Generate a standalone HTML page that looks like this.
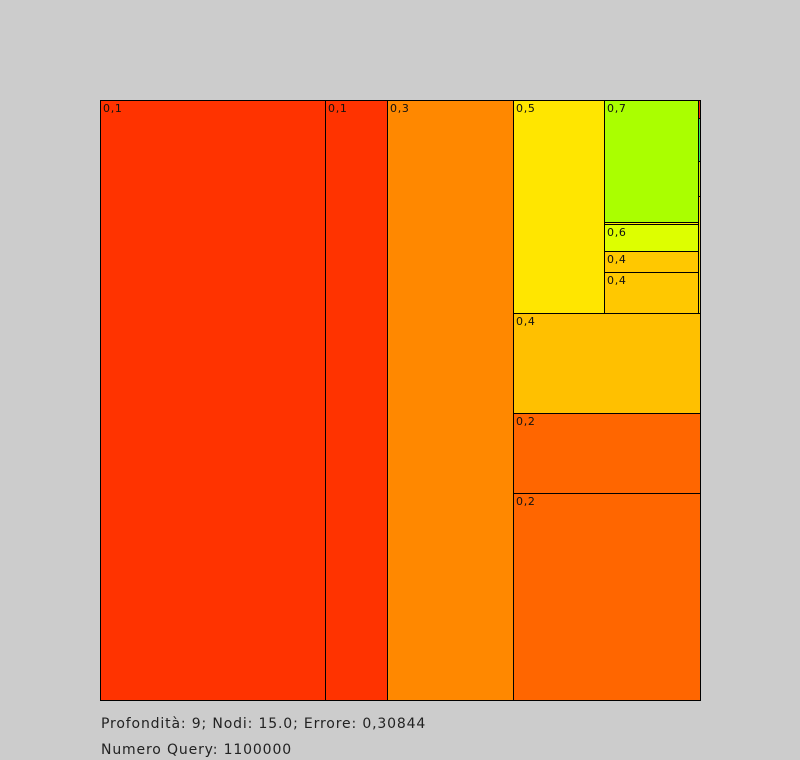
<!DOCTYPE html>
<html><head><meta charset="utf-8">
<style>
body{margin:0;background:#cccccc;width:800px;height:760px;overflow:hidden;font-family:"DejaVu Sans","Liberation Sans",sans-serif;}
#chart{position:absolute;left:0;top:0;}
.info{position:absolute;left:101px;font-size:14px;color:#222;letter-spacing:0.85px;}
</style></head><body>
<svg id="chart" width="800" height="760"></svg>
<div class="info" style="top:716px">Profondità: 9; Nodi: 15.0; Errore: 0,30844</div>
<div class="info" style="top:742px">Numero Query: 1100000</div>
<script>
const nodeLabels = ["0,1","0,1","0,3","0,5","0,7","","0,6","0,4","0,4","0,4","0,2","0,2"];
const nodeWeights = [225,62,126, 91, 122,2,27,21,41, 100,80,207];
const nodeColors = ["#ff3300","#ff3300","#ff8800","#ffe600","#aaff00","#ffe600","#ddff00","#ffc800","#ffc800","#ffc000","#ff6600","#ff6600"];
const stripWeights = [18,43,35,117];
const stripColors = ["#ff2a00","#33ee55","#ccee00","#ffdd00"];

function leaf(i){return {label:nodeLabels[i],w:nodeWeights[i],color:nodeColors[i]};}
const strip = {w:2,children:stripWeights.map((w,i)=>({label:"",w:w,color:stripColors[i]}))};
const sub = {w:94,children:[4,5,6,7,8].map(leaf)};
const topRight = {w:213,children:[leaf(3),sub,strip]};
const rightCol = {w:187,children:[topRight,leaf(9),leaf(10),leaf(11)]};
const root = {children:[leaf(0),leaf(1),leaf(2),rightCol]};

const svg=document.getElementById('chart');
const NS="http://www.w3.org/2000/svg";
function sum(n){return n.children?n.children.reduce((a,c)=>a+c.w,0):n.w;}
function layout(n,x,y,w,h,horiz){
  if(!n.children){
    const r=document.createElementNS(NS,'rect');
    r.setAttribute('x',x+0.5);r.setAttribute('y',y+0.5);
    r.setAttribute('width',Math.max(w,0));r.setAttribute('height',Math.max(h,0));
    r.setAttribute('fill',n.color);r.setAttribute('stroke','#000');r.setAttribute('stroke-width','1');
    
    
    svg.appendChild(r);
    if(n.label && w>15 && h>12){
      const t=document.createElementNS(NS,'text');
      t.setAttribute('x',x+3);t.setAttribute('y',y+12);
      t.setAttribute('font-size','11');t.setAttribute('fill','#111');
      t.setAttribute('letter-spacing','0.7');
      t.textContent=n.label;
      
      
      svg.appendChild(t);
    }
    return;
  }
  const tot=sum(n);let off=0;
  n.children.forEach(c=>{
    if(horiz){const cw=w*c.w/tot;layout(c,x+off,y,cw,h,!horiz);off+=cw;}
    else{const ch=h*c.w/tot;layout(c,x,y+off,w,ch,!horiz);off+=ch;}
  });
}
layout(root,100,100,600,600,true);
</script>
</body></html>
